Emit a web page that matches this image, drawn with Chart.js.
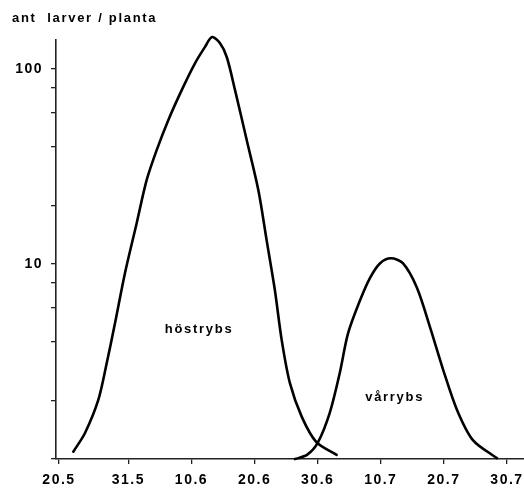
<!DOCTYPE html>
<html>
<head>
<meta charset="utf-8">
<script src="https://cdn.jsdelivr.net/npm/chart.js@4"></script>
<style>
  html, body { margin: 0; padding: 0; background: #fff; }
  #wrap { width: 524px; height: 493px; position: relative; }
</style>
</head>
<body>
<div id="wrap"><canvas id="c" width="524" height="493"></canvas></div>
<script>
// ---- data (x = days after 20 May, y = larvae per plant) ----
const xTickDays   = [0, 11, 21, 31, 41, 51, 61, 71];
const xTickLabels = ['20.5', '31.5', '10.6', '20.6', '30.6', '10.7', '20.7', '30.7'];
const yTickValues = [1, 2, 4, 6, 8, 10, 20, 40, 60, 80, 100];
const yLabelled   = [10, 100];

const hostDays   = [2.27, 4.12, 6.23, 7.56, 8.88, 10.46, 12.31, 13.9, 15.48, 17.32, 19.45, 21.55, 23.14, 24.25, 25.5, 26.6, 27.9, 29.75, 31.6, 32.9, 34.2, 35.3, 36.6, 38.5, 40.8, 44.0];
const hostValues = [1.09, 1.36, 2.01, 3.1, 4.98, 9.0, 16.2, 27.0, 38.4, 54.7, 78, 107, 130, 146, 136, 115, 78, 43.3, 23.9, 13.3, 7.4, 4.07, 2.45, 1.64, 1.22, 1.05];

const varDays    = [37.4, 39.3, 41.0, 42.9, 44.5, 45.8, 47.7, 49.3, 50.9, 52.6, 54.5, 56.7, 58.8, 60.9, 63.1, 65.6, 69.4];
const varValues  = [1.0, 1.05, 1.21, 1.72, 2.76, 4.4, 6.5, 8.5, 10.1, 10.7, 10.1, 7.6, 4.75, 2.86, 1.78, 1.25, 1.01];

const seriesNames = ['höstrybs', 'vårrybs'];
const yTitle = 'ant  larver / planta';

// label anchors (in data units)
const nameAnchors = [{x: 22.2, y: 4.6}, {x: 53.2, y: 2.08}];

const FONT = '"Liberation Sans", Arial, sans-serif';

function zip(xs, ys) { return xs.map((x, i) => ({x: x, y: ys[i]})); }

const textPlugin = {
  id: 'textPlugin',
  beforeDraw(chart) {
    chart.ctx.letterSpacing = '1.5px';
  },
  afterDraw(chart) {
    const ctx = chart.ctx;
    const xs = chart.scales.x, ys = chart.scales.y;
    ctx.save();
    ctx.fillStyle = '#000';
    ctx.letterSpacing = '1.7px';
    ctx.font = 'bold 13px ' + FONT;
    ctx.textAlign = 'center';
    ctx.textBaseline = 'middle';
    seriesNames.forEach((n, i) => {
      ctx.fillText(n, xs.getPixelForValue(nameAnchors[i].x), ys.getPixelForValue(nameAnchors[i].y));
    });
    ctx.letterSpacing = '1.7px';
    ctx.textAlign = 'left';
    ctx.textBaseline = 'alphabetic';
    ctx.fillText(yTitle, 12, 22);
    ctx.restore();
    ctx.letterSpacing = '0px';
  }
};

new Chart(document.getElementById('c'), {
  type: 'line',
  data: {
    datasets: [
      { label: seriesNames[0], data: zip(hostDays, hostValues) },
      { label: seriesNames[1], data: zip(varDays, varValues) }
    ]
  },
  options: {
    responsive: false,
    animation: false,
    events: [],
    layout: { padding: { top: 40, left: 0, right: 0, bottom: 0 } },
    elements: {
      point: { radius: 0 },
      line: { borderColor: '#000', borderWidth: 2.6, tension: 0.3, fill: false, borderCapStyle: 'round', borderJoinStyle: 'round' }
    },
    datasets: { line: { clip: false } },
    plugins: { legend: { display: false }, tooltip: { enabled: false } },
    scales: {
      x: {
        type: 'linear',
        min: -0.475,
        max: 73.7,
        afterBuildTicks(s) { s.ticks = xTickDays.map(v => ({value: v})); },
        afterFit(s) { s.height = 34; s.paddingLeft = 0; s.paddingRight = 0; },
        ticks: {
          autoSkip: false, maxRotation: 0, padding: 8, color: '#000',
          font: { family: FONT, size: 14, weight: 'bold' },
          callback(v) { const i = xTickDays.indexOf(v); return i >= 0 ? xTickLabels[i] : ''; }
        },
        grid: { display: true, drawOnChartArea: false, drawTicks: true, tickLength: 5, color: '#222', lineWidth: 1.3 },
        border: { display: true, color: '#222', width: 1.6 }
      },
      y: {
        type: 'logarithmic',
        min: 1,
        max: 141,
        afterBuildTicks(s) { s.ticks = yTickValues.map(v => ({value: v})); },
        afterFit(s) { s.width = 56; },
        ticks: {
          autoSkip: false, padding: 8, color: '#000',
          font: { family: FONT, size: 14, weight: 'bold' },
          callback(v) { return yLabelled.includes(v) ? String(v) : ''; }
        },
        grid: { display: true, drawOnChartArea: false, drawTicks: true, tickLength: 5, color: '#222', lineWidth: 1.3 },
        border: { display: true, color: '#222', width: 1.6 }
      }
    }
  },
  plugins: [textPlugin]
});
</script>
</body>
</html>
